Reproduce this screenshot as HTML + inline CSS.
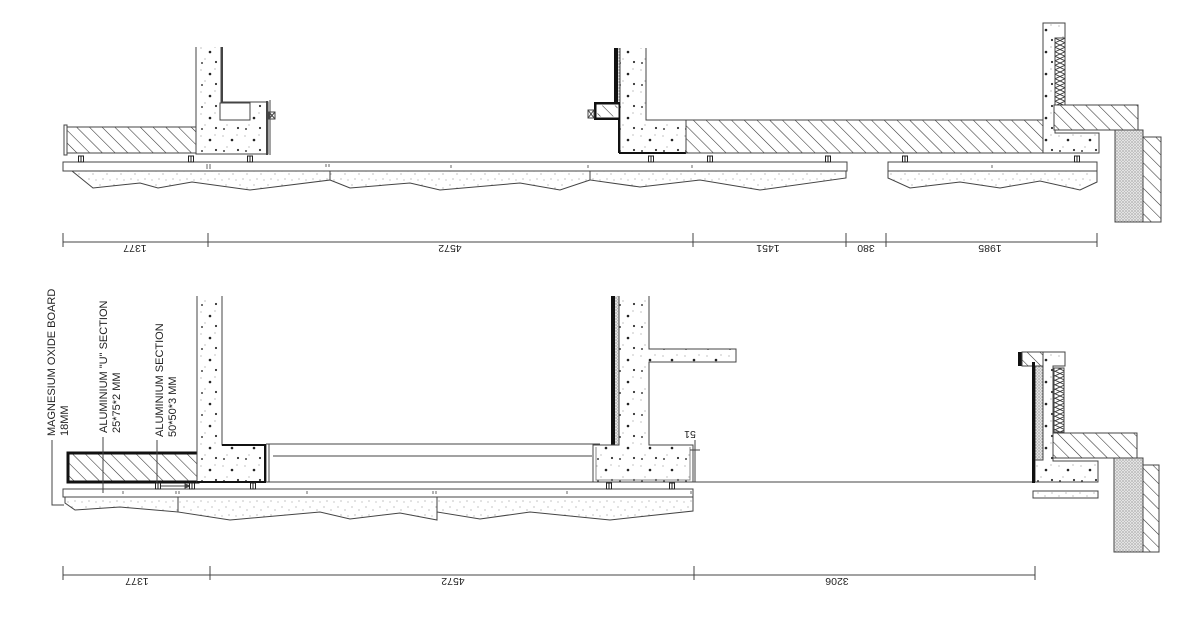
<!DOCTYPE html>
<html><head><meta charset="utf-8"><style>
html,body{margin:0;padding:0;background:#fff;}
svg{display:block;}
text{font-family:"Liberation Sans",Arial,sans-serif;fill:#222;}
</style></head><body>
<svg width="1200" height="623" viewBox="0 0 1200 623" xmlns="http://www.w3.org/2000/svg">
<defs>
<pattern id="h" width="9" height="9" patternUnits="userSpaceOnUse" patternTransform="rotate(-45)">
<rect width="9" height="9" fill="#fff"/><line x1="0" y1="0" x2="0" y2="9" stroke="#333" stroke-width="1.1"/></pattern>
<pattern id="c" width="14" height="14" patternUnits="userSpaceOnUse">
<rect width="14" height="14" fill="#fff"/>
<circle cx="2" cy="3" r="0.6" fill="#999"/><circle cx="9" cy="6" r="0.6" fill="#999"/><circle cx="5" cy="11" r="0.6" fill="#999"/><circle cx="12" cy="12" r="0.6" fill="#aaa"/></pattern>
<pattern id="cc" width="22" height="22" patternUnits="userSpaceOnUse">
<rect width="22" height="22" fill="#fff"/>
<circle cx="3" cy="4" r="0.6" fill="#999"/><circle cx="12" cy="8" r="1.3" fill="#222"/><circle cx="7" cy="15" r="0.6" fill="#999"/><circle cx="18" cy="18" r="1.1" fill="#333"/><circle cx="17" cy="3" r="0.6" fill="#999"/><circle cx="4" cy="19" r="1" fill="#444"/></pattern>
<pattern id="s" width="3" height="3" patternUnits="userSpaceOnUse">
<rect width="3" height="3" fill="#e4e4e4"/><circle cx="1" cy="1" r="0.6" fill="#777"/><circle cx="2.5" cy="2.3" r="0.45" fill="#999"/></pattern>
<pattern id="z" width="10" height="9" patternUnits="userSpaceOnUse">
<rect width="10" height="9" fill="#fff"/><path d="M0 0 L10 4.5 L0 9 M10 0 L0 4.5 L10 9" stroke="#333" fill="none" stroke-width="0.8"/></pattern>
<g id="b"><rect x="-2.5" y="0" width="5" height="6" fill="#fff" stroke="#222" stroke-width="1"/><line x1="0" y1="0" x2="0" y2="6" stroke="#222"/></g>
</defs>
<g stroke="#444" stroke-width="1" fill="none">

<rect x="64" y="125" width="3" height="30" fill="#fff"/>
<rect x="67" y="127" width="130" height="26" fill="url(#h)"/>
<path d="M196 47 V154 H268 V102 H221 V47" fill="url(#cc)"/>
<line x1="222" y1="47" x2="222" y2="102" stroke-width="2"/>
<rect x="220" y="103" width="30" height="17" fill="#fff"/>
<line x1="267" y1="101" x2="267" y2="155" stroke-width="2"/>
<line x1="270" y1="100" x2="270" y2="155"/>
<rect x="269" y="112" width="6" height="7"/><path d="M269 112 L275 119 M275 112 L269 119"/>

<rect x="614" y="48" width="4" height="55" fill="#111" stroke="none"/>
<rect x="618" y="48" width="3" height="55" fill="url(#s)" stroke="none"/>
<path d="M620 48 V153 H686 V120 H646 V48" fill="url(#cc)"/>
<line x1="619" y1="153" x2="686" y2="153" stroke="#111" stroke-width="2"/>
<line x1="619" y1="102" x2="619" y2="153" stroke="#111" stroke-width="2"/>
<rect x="594" y="102" width="26" height="18" fill="#111" stroke="none"/>
<rect x="597" y="105" width="21" height="12" fill="url(#h)" stroke="#fff"/>
<rect x="588" y="110" width="6" height="8"/><path d="M588 110 L594 118 M594 110 L588 118"/>
<rect x="686" y="120" width="358" height="33" fill="url(#h)"/>

<path d="M1043 23 H1065 V38 H1055 V133 H1099 V153 H1043 Z" fill="url(#cc)"/>
<rect x="1055" y="38" width="10" height="67" fill="url(#z)"/>
<path d="M1054 105 H1138 V137 H1161 V222 H1143 V153 L1122 137 L1115 130 H1054 Z" fill="url(#h)"/>
<rect x="1115" y="130" width="28" height="92" fill="url(#s)"/>

<rect x="63" y="162" width="784" height="9" fill="#fff"/>
<rect x="888" y="162" width="209" height="9" fill="#fff"/>
<path d="M72 171 L93 188 L140 183 L158 188 L192 182 L250 190 L330 180 L330 171 Z" fill="url(#c)"/>
<path d="M330 171 V180 L350 188 L410 183 L440 190 L520 183 L560 190 L590 180 V171 Z" fill="url(#c)"/>
<path d="M590 171 V180 L640 187 L700 180 L760 190 L846 178 V171 Z" fill="url(#c)"/>
<path d="M888 171 V178 L910 188 L960 182 L1000 188 L1040 181 L1080 190 L1097 182 V171 Z" fill="url(#c)"/>
<g stroke="#666"><path d="M207 164v5M210 164v5M326 164v3M329 164v3M451 165v3M588 165v3M692 165v3M992 165v3"/></g>

<line x1="63" y1="242" x2="1097" y2="242"/>
<path d="M63 233v14M208 233v14M693 233v14M846 233v14M886 233v14M1097 233v14"/>

<rect x="68" y="453" width="130" height="29" fill="url(#h)" stroke="#111" stroke-width="3"/>
<path d="M197 296 V482 H266 V445 H222 V296" fill="url(#cc)"/>
<path d="M222 445 H265 V482 H197" stroke="#111" stroke-width="2"/>
<path d="M266 444 H600 M266 482 H600 M273 456 H592 M269 444 V482 M596 444 V482"/>
<rect x="611" y="296" width="4" height="150" fill="#111" stroke="none"/>
<rect x="615" y="296" width="4" height="150" fill="url(#s)" stroke="none"/>
<path d="M619 296 V445 H593 V482 H693 V445 H649 V362 H736 V349 H649 V296" fill="url(#cc)"/>
<path d="M596 447 V480 H690 V447" stroke="#888"/>
<path d="M695 440 V482 M690 450 H700"/>

<rect x="63" y="489" width="630" height="8" fill="#fff"/>
<path d="M65 497 V503 L75 510 L120 507 L178 512 V497 Z" fill="url(#c)"/>
<path d="M178 497 V512 L230 520 L320 512 L350 519 L400 513 L437 520 V497 Z" fill="url(#c)"/>
<path d="M437 497 V512 L480 519 L530 512 L610 520 L693 511 V497 Z" fill="url(#c)"/>
<g stroke="#666"><path d="M123 491v3M176 491v3M179 491v3M307 491v3M433 491v3M436 491v3M567 491v3M691 491v3"/></g>
<line x1="693" y1="482" x2="1035" y2="482"/>

<rect x="1018" y="352" width="4" height="14" fill="#111" stroke="none"/>
<rect x="1022" y="352" width="21" height="14" fill="url(#h)"/>
<path d="M1043 352 H1065 V366 H1053 V461 H1098 V482 H1035 V366 H1043 Z" fill="url(#cc)"/>
<rect x="1035" y="366" width="8" height="94" fill="url(#s)"/>
<rect x="1032" y="362" width="3" height="121" fill="#111" stroke="none"/>
<rect x="1054" y="368" width="10" height="64" fill="url(#z)"/>
<path d="M1053 433 H1137 V465 H1159 V552 H1143 V480 L1122 460 L1115 458 H1053 Z" fill="url(#h)"/>
<rect x="1114" y="458" width="29" height="94" fill="url(#s)"/>
<rect x="1033" y="491" width="65" height="7" fill="url(#c)"/>

<path d="M52 440 V505 H64"/>
<path d="M103 437 V493"/>
<path d="M157 440 V486 H190"/>
<path d="M190 486 l-5 -2 v4 z" fill="#444"/>

<line x1="63" y1="575" x2="1035" y2="575"/>
<path d="M63 566v14M210 566v14M694 566v14M1035 566v14"/>
</g>

<use href="#b" x="81" y="156"/><use href="#b" x="191" y="156"/><use href="#b" x="250" y="156"/>
<use href="#b" x="651" y="156"/><use href="#b" x="710" y="156"/><use href="#b" x="828" y="156"/>
<use href="#b" x="905" y="156"/><use href="#b" x="1077" y="156"/>
<use href="#b" x="158" y="483"/><use href="#b" x="192" y="483"/><use href="#b" x="253" y="483"/><use href="#b" x="609" y="483"/><use href="#b" x="672" y="483"/>

<g font-size="10.5" text-anchor="middle">
<text transform="translate(135,245) rotate(180)">1377</text>
<text transform="translate(450,245) rotate(180)">4572</text>
<text transform="translate(768,245) rotate(180)">1451</text>
<text transform="translate(866,245) rotate(180)">380</text>
<text transform="translate(990,245) rotate(180)">1985</text>
<text transform="translate(137,578) rotate(180)">1377</text>
<text transform="translate(453,578) rotate(180)">4572</text>
<text transform="translate(837,578) rotate(180)">3206</text>
<text transform="translate(690,431) rotate(180)">51</text>
</g>
<g font-size="11">
<text transform="translate(55,436) rotate(-90)">MAGNESIUM OXIDE BOARD</text>
<text transform="translate(68,436) rotate(-90)">18MM</text>
<text transform="translate(107,433) rotate(-90)">ALUMINIUM "U" SECTION</text>
<text transform="translate(120,433) rotate(-90)">25*75*2 MM</text>
<text transform="translate(163,437) rotate(-90)">ALUMINIUM SECTION</text>
<text transform="translate(176,437) rotate(-90)">50*50*3 MM</text>
</g>
</svg>
</body></html>
